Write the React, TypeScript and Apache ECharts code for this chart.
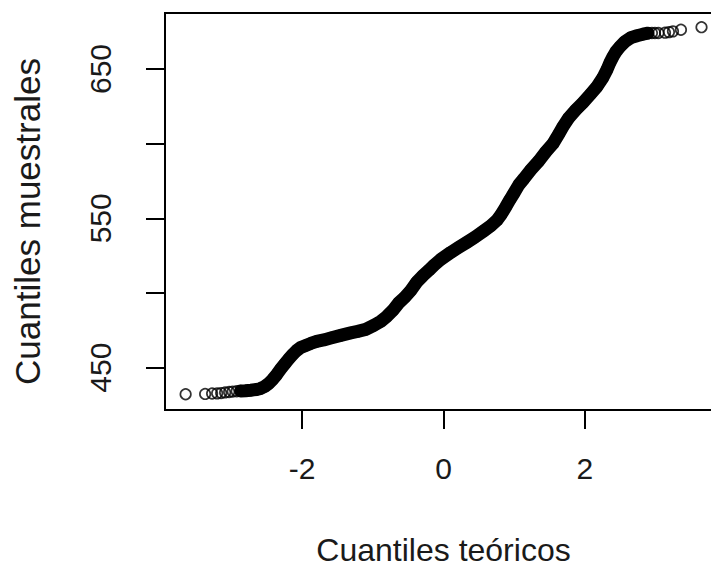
import React, { useEffect, useRef } from "react";
import * as echarts from "echarts";

// Theoretical (normal) quantiles and sample quantiles
const leftTailX = [-3.65, -3.374, -3.275, -3.204, -3.147, -3.091, -3.034, -2.984, -2.928];
const leftTailY = [432.2, 432.4, 432.7, 432.8, 433.0, 433.4, 433.7, 434.0, 434.2];

const bandX = [
  -2.871, -2.8, -2.729, -2.644, -2.588, -2.531, -2.474, -2.418, -2.361, -2.305,
  -2.248, -2.191, -2.135, -2.078, -2.021, -1.95, -1.88, -1.795, -1.695, -1.596,
  -1.455, -1.313, -1.214, -1.101, -0.987, -0.888, -0.803, -0.718, -0.633, -0.548,
  -0.463, -0.378, -0.293, -0.208, -0.137, -0.038, 0.103, 0.217, 0.33, 0.443,
  0.571, 0.67, 0.755, 0.812, 0.882, 0.939, 0.996, 1.067, 1.137, 1.237,
  1.35, 1.449, 1.548, 1.633, 1.69, 1.775, 1.874, 1.973, 2.086, 2.171,
  2.256, 2.313, 2.355, 2.398, 2.441, 2.497, 2.568, 2.653, 2.738, 2.823,
  2.894,
];
const bandY = [
  434.4, 434.6, 434.9, 435.4, 436.1, 437.4, 439.4, 442.1, 445.4, 449.1,
  452.5, 455.8, 458.8, 461.5, 463.5, 464.9, 466.2, 467.6, 468.6, 469.9,
  471.6, 473.3, 474.3, 475.6, 478.3, 481.0, 484.3, 488.3, 493.4, 497.1,
  501.7, 507.4, 511.5, 515.2, 518.5, 522.5, 527.2, 530.6, 533.9, 537.3,
  541.6, 545.0, 548.7, 552.3, 557.7, 562.4, 566.8, 572.5, 576.5, 582.5,
  588.5, 594.6, 599.9, 606.6, 611.3, 617.4, 622.7, 627.4, 633.4, 638.1,
  644.2, 649.5, 654.2, 658.2, 661.6, 664.9, 668.3, 671.0, 672.3, 673.3,
  674.0,
];

const rightTailX = [2.95, 2.993, 3.042, 3.135, 3.191, 3.248, 3.361, 3.652];
const rightTailY = [674.1, 674.1, 674.1, 674.3, 674.7, 675.2, 676.3, 678.0];

const xTicks = [-2, 0, 2];
const yTicks = [450, 500, 550, 600, 650];
const yTickLabels = [450, 550, 650];

const xTitle = "Cuantiles teóricos";
const yTitle = "Cuantiles muestrales";

const FONT = "'Liberation Sans', Arial, sans-serif";
const TEXT_COLOR = "#1a1a1a";

export default function App() {
  const ref = useRef<HTMLDivElement>(null);

  useEffect(() => {
    if (!ref.current) return;
    const chart = echarts.init(ref.current, undefined, { renderer: "svg" });

    const zip = (xs: number[], ys: number[]) => xs.map((x, i) => [x, ys[i]]);
    const allPoints = [
      ...zip(leftTailX, leftTailY),
      ...zip(bandX, bandY),
      ...zip(rightTailX, rightTailY),
    ];
    const bandPoints = zip(bandX, bandY);

    chart.setOption({
      animation: false,
      backgroundColor: "#ffffff",
      grid: {
        left: 165,
        top: 13,
        bottom: 152,
        right: 0,
        containLabel: false,
        outerBoundsMode: "none",
        show: true,
        borderColor: "#000",
        borderWidth: 2,
        backgroundColor: "transparent",
      },
      xAxis: {
        type: "value",
        min: -3.942,
        max: 3.942,
        splitLine: { show: false },
        axisLine: { show: false, onZero: false },
        axisTick: {
          show: true,
          inside: false,
          length: 19,
          lineStyle: { color: "#000", width: 2 },
          customValues: xTicks,
        },
        axisLabel: {
          show: true,
          margin: 43,
          fontSize: 30,
          lineHeight: 30,
          fontFamily: FONT,
          color: TEXT_COLOR,
          customValues: xTicks,
          formatter: (v: number) => String(v),
        },
        name: xTitle,
        nameLocation: "middle",
        nameGap: 127.5,
        nameTextStyle: {
          fontSize: 32,
          lineHeight: 24,
          fontFamily: FONT,
          color: TEXT_COLOR,
        },
      },
      yAxis: {
        type: "value",
        min: 421.65,
        max: 687.5,
        splitLine: { show: false },
        axisLine: { show: false, onZero: false },
        axisTick: {
          show: true,
          inside: false,
          length: 19,
          lineStyle: { color: "#000", width: 2 },
          customValues: yTicks,
        },
        axisLabel: {
          show: true,
          rotate: 90,
          margin: 50,
          fontSize: 30,
          lineHeight: 30,
          fontFamily: FONT,
          color: TEXT_COLOR,
          customValues: yTickLabels,
          formatter: (v: number) => String(v),
        },
        name: yTitle,
        nameLocation: "middle",
        nameGap: 120,
        nameTextStyle: {
          fontSize: 35,
          lineHeight: 35,
          fontFamily: FONT,
          color: TEXT_COLOR,
          padding: [0, 20, 0, 0],
        },
      },
      series: [
        {
          type: "line",
          data: bandPoints,
          symbol: "none",
          smooth: false,
          lineStyle: { color: "#000", width: 13, cap: "round", join: "round" },
          z: 2,
        },
        {
          type: "scatter",
          data: allPoints,
          symbol: "circle",
          symbolSize: 10.5,
          itemStyle: { color: "transparent", borderColor: "#000", borderWidth: 1.7 },
          z: 3,
        },
      ],
    });

    return () => chart.dispose();
  }, []);

  return (
    <div
      style={{
        position: "fixed",
        left: 0,
        top: 0,
        width: 711,
        height: 562,
        overflow: "hidden",
        background: "#fff",
      }}
    >
      <div ref={ref} style={{ width: 722, height: 562 }} />
    </div>
  );
}
